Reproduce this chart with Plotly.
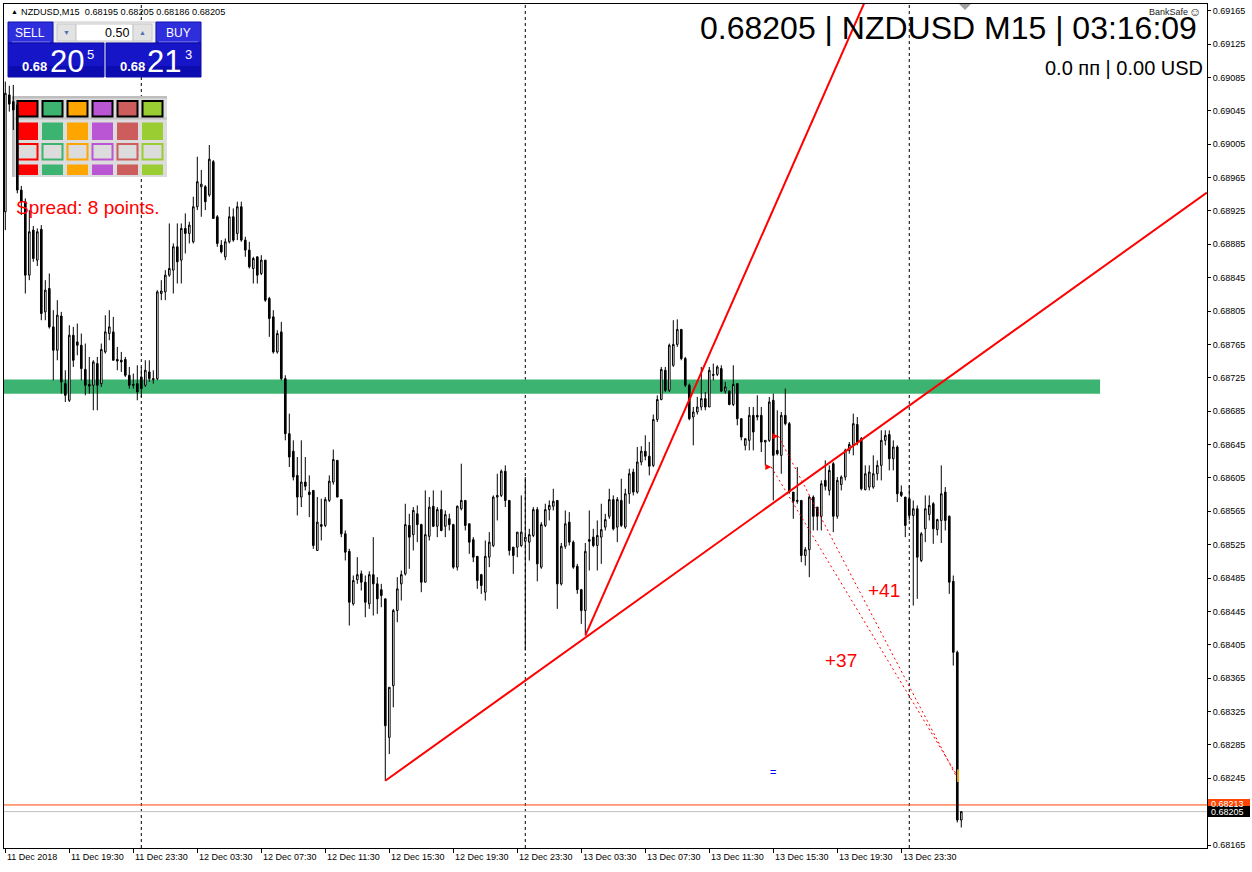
import plotly.graph_objects as go

# ---------------- data (NZDUSD M15, 11 Dec 2018 15:30 -> 14 Dec 2018 03:15) ----------------
bar_open = [0.68924,0.69064,0.69056,0.69052,0.68950,0.68936,0.68848,0.68902,0.68866,0.68903,
0.68804,0.68832,0.68786,0.68758,0.68799,0.68718,0.68698,0.68776,0.68768,0.68764,
0.68735,0.68717,0.68716,0.68742,0.68718,0.68756,0.68778,0.68780,0.68747,0.68746,
0.68747,0.68728,0.68717,0.68718,0.68726,0.68716,0.68732,0.68724,0.68724,0.68826,
0.68828,0.68848,0.68854,0.68882,0.68866,0.68904,0.68898,0.68888,0.68930,0.68954,
0.68954,0.68944,0.68984,0.68918,0.68884,0.68870,0.68888,0.68918,0.68898,0.68930,
0.68890,0.68878,0.68856,0.68870,0.68850,0.68866,0.68820,0.68798,0.68756,0.68780,
0.68724,0.68658,0.68637,0.68608,0.68582,0.68600,0.68588,0.68590,0.68518,0.68549,
0.68548,0.68578,0.68600,0.68626,0.68579,0.68538,0.68517,0.68454,0.68483,0.68490,
0.68480,0.68454,0.68489,0.68478,0.68471,0.68460,0.68294,0.68356,0.68446,0.68478,
0.68490,0.68548,0.68537,0.68562,0.68549,0.68480,0.68535,0.68571,0.68547,0.68567,
0.68547,0.68556,0.68549,0.68498,0.68568,0.68578,0.68550,0.68531,0.68511,0.68489,
0.68468,0.68510,0.68524,0.68582,0.68584,0.68613,0.68578,0.68522,0.68522,0.68524,
0.68529,0.68528,0.68536,0.68567,0.68498,0.68548,0.68567,0.68571,0.68578,0.68478,
0.68523,0.68552,0.68528,0.68499,0.68471,0.68446,0.68529,0.68534,0.68524,0.68534,
0.68546,0.68559,0.68579,0.68546,0.68578,0.68546,0.68586,0.68612,0.68588,0.68624,
0.68637,0.68631,0.68620,0.68675,0.68699,0.68734,0.68710,0.68740,0.68765,0.68783,
0.68748,0.68716,0.68678,0.68684,0.68690,0.68700,0.68690,0.68729,0.68729,0.68736,
0.68709,0.68709,0.68693,0.68718,0.68676,0.68644,0.68650,0.68680,0.68680,0.68680,
0.68648,0.68650,0.68698,0.68638,0.68632,0.68680,0.68670,0.68588,0.68578,0.68578,
0.68512,0.68519,0.68582,0.68570,0.68559,0.68602,0.68590,0.68622,0.68559,0.68597,
0.68606,0.68638,0.68645,0.68669,0.68652,0.68591,0.68594,0.68594,0.68610,0.68620,
0.68650,0.68657,0.68628,0.68642,0.68588,0.68582,0.68580,0.68560,0.68568,0.68506,
0.68544,0.68561,0.68574,0.68543,0.68554,0.68588,0.68559,0.68481,0.68396,0.68195]

bar_high = [0.69080,0.69075,0.69076,0.69058,0.68955,0.68940,0.68926,0.68907,0.68904,0.68908,
0.68842,0.68850,0.68806,0.68818,0.68804,0.68734,0.68788,0.68786,0.68790,0.68778,
0.68766,0.68750,0.68746,0.68750,0.68766,0.68800,0.68806,0.68798,0.68762,0.68756,
0.68750,0.68738,0.68730,0.68740,0.68738,0.68746,0.68746,0.68734,0.68830,0.68842,
0.68854,0.68910,0.68886,0.68910,0.68910,0.68922,0.68912,0.68942,0.68990,0.68974,
0.68956,0.69004,0.68986,0.68920,0.68890,0.68892,0.68930,0.68928,0.68936,0.68936,
0.68894,0.68888,0.68870,0.68870,0.68872,0.68866,0.68822,0.68806,0.68782,0.68792,
0.68728,0.68682,0.68650,0.68630,0.68650,0.68630,0.68608,0.68590,0.68582,0.68580,
0.68582,0.68608,0.68639,0.68626,0.68579,0.68542,0.68520,0.68488,0.68510,0.68494,
0.68488,0.68493,0.68534,0.68486,0.68478,0.68460,0.68354,0.68448,0.68486,0.68494,
0.68574,0.68562,0.68570,0.68572,0.68550,0.68590,0.68582,0.68590,0.68570,0.68590,
0.68566,0.68562,0.68550,0.68572,0.68622,0.68578,0.68550,0.68534,0.68511,0.68490,
0.68530,0.68540,0.68584,0.68610,0.68615,0.68620,0.68578,0.68522,0.68540,0.68584,
0.68606,0.68544,0.68570,0.68570,0.68552,0.68574,0.68578,0.68592,0.68578,0.68527,
0.68566,0.68564,0.68530,0.68502,0.68472,0.68527,0.68566,0.68544,0.68554,0.68574,
0.68562,0.68592,0.68584,0.68582,0.68604,0.68592,0.68616,0.68616,0.68642,0.68643,
0.68656,0.68648,0.68681,0.68704,0.68738,0.68738,0.68766,0.68794,0.68795,0.68783,
0.68750,0.68718,0.68690,0.68702,0.68738,0.68708,0.68738,0.68742,0.68740,0.68740,
0.68720,0.68710,0.68740,0.68718,0.68676,0.68652,0.68690,0.68690,0.68704,0.68690,
0.68650,0.68702,0.68706,0.68686,0.68684,0.68712,0.68672,0.68588,0.68618,0.68578,
0.68522,0.68584,0.68584,0.68570,0.68602,0.68626,0.68620,0.68624,0.68606,0.68608,
0.68640,0.68648,0.68682,0.68678,0.68654,0.68620,0.68620,0.68632,0.68626,0.68662,
0.68662,0.68662,0.68650,0.68644,0.68596,0.68582,0.68596,0.68578,0.68572,0.68540,
0.68584,0.68584,0.68576,0.68556,0.68620,0.68594,0.68560,0.68488,0.68398,0.68205]

bar_low = [0.68902,0.69044,0.69022,0.68946,0.68920,0.68826,0.68842,0.68864,0.68859,0.68794,
0.68794,0.68784,0.68722,0.68746,0.68706,0.68696,0.68696,0.68738,0.68752,0.68722,
0.68704,0.68706,0.68686,0.68686,0.68714,0.68754,0.68770,0.68746,0.68734,0.68732,
0.68726,0.68712,0.68712,0.68698,0.68702,0.68714,0.68720,0.68718,0.68722,0.68818,
0.68818,0.68846,0.68826,0.68838,0.68838,0.68874,0.68886,0.68886,0.68926,0.68918,
0.68926,0.68942,0.68916,0.68882,0.68874,0.68866,0.68886,0.68888,0.68890,0.68888,
0.68870,0.68856,0.68838,0.68838,0.68848,0.68816,0.68774,0.68754,0.68754,0.68722,
0.68650,0.68618,0.68602,0.68560,0.68570,0.68590,0.68558,0.68520,0.68518,0.68530,
0.68546,0.68576,0.68597,0.68582,0.68534,0.68506,0.68428,0.68452,0.68478,0.68470,
0.68438,0.68448,0.68440,0.68442,0.68450,0.68242,0.68274,0.68330,0.68432,0.68458,
0.68488,0.68496,0.68518,0.68528,0.68468,0.68480,0.68530,0.68546,0.68534,0.68541,
0.68534,0.68542,0.68496,0.68494,0.68566,0.68542,0.68514,0.68504,0.68472,0.68466,
0.68458,0.68498,0.68522,0.68554,0.68582,0.68570,0.68512,0.68490,0.68510,0.68522,
0.68398,0.68506,0.68534,0.68481,0.68496,0.68546,0.68554,0.68566,0.68448,0.68476,
0.68520,0.68524,0.68496,0.68466,0.68430,0.68418,0.68494,0.68522,0.68494,0.68502,
0.68542,0.68556,0.68542,0.68528,0.68546,0.68544,0.68574,0.68584,0.68586,0.68620,
0.68626,0.68608,0.68618,0.68672,0.68698,0.68708,0.68708,0.68738,0.68762,0.68746,
0.68714,0.68674,0.68644,0.68681,0.68686,0.68686,0.68690,0.68722,0.68727,0.68708,
0.68706,0.68692,0.68691,0.68668,0.68650,0.68638,0.68638,0.68638,0.68674,0.68636,
0.68620,0.68648,0.68578,0.68632,0.68610,0.68668,0.68586,0.68556,0.68574,0.68504,
0.68500,0.68486,0.68542,0.68542,0.68542,0.68590,0.68584,0.68540,0.68556,0.68590,
0.68602,0.68634,0.68632,0.68644,0.68590,0.68590,0.68590,0.68592,0.68602,0.68602,
0.68644,0.68614,0.68614,0.68576,0.68582,0.68534,0.68554,0.68452,0.68460,0.68504,
0.68528,0.68554,0.68526,0.68536,0.68527,0.68542,0.68466,0.68380,0.68192,0.68186]

bar_close = [0.69066,0.69053,0.69046,0.68950,0.68936,0.68848,0.68900,0.68868,0.68900,0.68802,
0.68830,0.68786,0.68758,0.68800,0.68720,0.68704,0.68776,0.68746,0.68764,0.68736,
0.68716,0.68715,0.68744,0.68716,0.68759,0.68780,0.68786,0.68746,0.68745,0.68744,
0.68728,0.68716,0.68716,0.68708,0.68712,0.68734,0.68724,0.68723,0.68828,0.68829,
0.68848,0.68856,0.68882,0.68864,0.68904,0.68898,0.68908,0.68930,0.68960,0.68957,
0.68936,0.68987,0.68916,0.68886,0.68876,0.68888,0.68918,0.68890,0.68930,0.68890,
0.68878,0.68858,0.68868,0.68848,0.68866,0.68818,0.68796,0.68756,0.68778,0.68724,
0.68658,0.68630,0.68606,0.68582,0.68600,0.68595,0.68585,0.68524,0.68552,0.68547,
0.68579,0.68601,0.68627,0.68582,0.68538,0.68516,0.68456,0.68482,0.68489,0.68480,
0.68456,0.68489,0.68478,0.68460,0.68464,0.68308,0.68354,0.68446,0.68472,0.68489,
0.68549,0.68534,0.68566,0.68549,0.68480,0.68537,0.68570,0.68547,0.68567,0.68542,
0.68561,0.68549,0.68498,0.68571,0.68578,0.68548,0.68528,0.68510,0.68482,0.68476,
0.68511,0.68528,0.68582,0.68584,0.68613,0.68578,0.68518,0.68512,0.68540,0.68540,
0.68534,0.68537,0.68567,0.68502,0.68549,0.68567,0.68572,0.68577,0.68478,0.68523,
0.68550,0.68528,0.68498,0.68471,0.68446,0.68517,0.68531,0.68524,0.68536,0.68543,
0.68555,0.68579,0.68544,0.68579,0.68548,0.68586,0.68610,0.68588,0.68624,0.68637,
0.68631,0.68619,0.68675,0.68699,0.68735,0.68710,0.68764,0.68765,0.68783,0.68748,
0.68716,0.68676,0.68684,0.68690,0.68700,0.68690,0.68734,0.68728,0.68738,0.68709,
0.68714,0.68693,0.68717,0.68676,0.68654,0.68652,0.68680,0.68660,0.68678,0.68648,
0.68650,0.68696,0.68632,0.68634,0.68680,0.68670,0.68588,0.68577,0.68577,0.68512,
0.68519,0.68582,0.68559,0.68559,0.68598,0.68595,0.68614,0.68559,0.68602,0.68606,
0.68638,0.68645,0.68670,0.68648,0.68592,0.68610,0.68612,0.68610,0.68620,0.68650,
0.68656,0.68628,0.68642,0.68586,0.68584,0.68548,0.68560,0.68568,0.68510,0.68538,
0.68568,0.68572,0.68544,0.68555,0.68586,0.68554,0.68480,0.68396,0.68195,0.68205]

bar_index = list(range(len(bar_open)))          # 15-minute bars from 11 Dec 15:30

x_tick_pos = [0, 16, 32, 48, 64, 80, 96, 112, 128, 144, 160, 176, 192, 208, 224]
x_tick_text = ["11 Dec 2018", "11 Dec 19:30", "11 Dec 23:30", "12 Dec 03:30", "12 Dec 07:30",
               "12 Dec 11:30", "12 Dec 15:30", "12 Dec 19:30", "12 Dec 23:30", "13 Dec 03:30",
               "13 Dec 07:30", "13 Dec 11:30", "13 Dec 15:30", "13 Dec 19:30", "13 Dec 23:30"]
y_tick_vals = [0.68165, 0.68205, 0.68245, 0.68285, 0.68325, 0.68365, 0.68405, 0.68445, 0.68485,
               0.68525, 0.68565, 0.68605, 0.68645, 0.68685, 0.68725, 0.68765, 0.68805, 0.68845,
               0.68885, 0.68925, 0.68965, 0.69005, 0.69045, 0.69085, 0.69125, 0.69165]
day_separators = [34, 130, 226]

zone_x = [-1, 273.7]
zone_price = [0.68706, 0.68723]

trend1_x = [95, 300.4]
trend1_y = [0.68242, 0.68947]
trend2_x = [145, 182, 230]
trend2_y = [0.68416, 0.68818, 0.69340]

trade1_x = [193.3, 238.0]
trade1_y = [0.68655, 0.68245]
trade2_x = [191.5, 238.0]
trade2_y = [0.68618, 0.68248]
trade_labels = ["+41", "+37"]
trade_label_x = [219.7, 208.9]
trade_label_y = [0.68470, 0.68386]

bid_price = 0.68205
ask_price = 0.68213

X_RANGE = [-0.325, 300.43]
Y_RANGE = [0.681614, 0.69173]

# ---------------- helpers for pixel placement of UI widgets ----------------
L, T, W, H = 4, 4, 1203, 844
def px(x): return (x - L) / W
def py(y): return 1 - (y - T) / H

FONT = "Liberation Sans"
shapes = []
ann = []

def rect(x0, y0, x1, y1, fill, lc=None, lw=0, layer="above"):
    shapes.append(dict(type="rect", xref="paper", yref="paper", x0=px(x0), x1=px(x1),
                       y0=py(y1), y1=py(y0), fillcolor=fill,
                       line=dict(color=lc or fill, width=lw), layer=layer))

def txt(x, y, s, size, color="black", xa="left", ya="middle", family=FONT):
    ann.append(dict(xref="paper", yref="paper", x=px(x), y=py(y), text=s, showarrow=False,
                    xanchor=xa, yanchor=ya, font=dict(size=size, color=color, family=family),
                    borderpad=0))

fig = go.Figure()

fig.add_trace(go.Candlestick(
    x=bar_index, open=bar_open, high=bar_high, low=bar_low, close=bar_close,
    increasing=dict(line=dict(color="black", width=1), fillcolor="white"),
    decreasing=dict(line=dict(color="black", width=1), fillcolor="black"),
    whiskerwidth=0, hoverinfo="skip", showlegend=False))

# trend lines
fig.add_trace(go.Scatter(x=trend1_x, y=trend1_y, mode="lines",
                         line=dict(color="#FF0000", width=2), hoverinfo="skip", showlegend=False))
fig.add_trace(go.Scatter(x=trend2_x, y=trend2_y, mode="lines",
                         line=dict(color="#FF0000", width=2), hoverinfo="skip", showlegend=False))
# trade history lines
for tx, ty in ((trade1_x, trade1_y), (trade2_x, trade2_y)):
    fig.add_trace(go.Scatter(x=tx, y=ty, mode="lines",
                             line=dict(color="#FF0000", width=1, dash="2px,3px"),
                             hoverinfo="skip", showlegend=False))
# trade markers
fig.add_trace(go.Scatter(x=[trade2_x[0], trade1_x[0]], y=[trade2_y[0], trade1_y[0]], mode="markers",
                         marker=dict(symbol="arrow-right", size=6, color="#FF0000"),
                         hoverinfo="skip", showlegend=False))
fig.add_trace(go.Scatter(x=[trade2_x[1] + 0.2], y=[trade2_y[1]], mode="markers",
                         marker=dict(symbol="line-ns", size=9, line=dict(color="#DAA520", width=2)),
                         hoverinfo="skip", showlegend=False))

# support zone
shapes.append(dict(type="rect", xref="x", yref="y", x0=zone_x[0], x1=zone_x[1],
                   y0=zone_price[0], y1=zone_price[1], fillcolor="#3CB371",
                   line=dict(width=0), layer="below"))
# day separators
for d in day_separators:
    shapes.append(dict(type="line", xref="x", yref="paper", x0=d, x1=d, y0=0, y1=1,
                       line=dict(color="black", width=1, dash="3px,3px"), layer="below"))
# bid / ask lines
shapes.append(dict(type="line", xref="paper", yref="y", x0=0, x1=1, y0=ask_price, y1=ask_price,
                   line=dict(color="#FF4500", width=1), layer="below"))
shapes.append(dict(type="line", xref="paper", yref="y", x0=0, x1=1, y0=bid_price, y1=bid_price,
                   line=dict(color="#C0C0C0", width=1), layer="below"))

# colour palette widget (behind candles)
pal = ["#FF0000", "#3CB371", "#FFA500", "#BA55D3", "#CD5C5C", "#9ACD32"]
rect(12, 96, 167, 177, "#DCDCDC", layer="below")
rect(12, 96, 167, 98.5, "#BEBEBE", layer="below")
rect(12, 96, 14.5, 177, "#BEBEBE", layer="below")
rect(14.5, 117.5, 167, 119.5, "#C4C4C4", layer="below")
for k, c in enumerate(pal):
    x0 = 17.5 + 25 * k
    rect(x0, 101, x0 + 20, 116.5, c, "black", 2, layer="below")
    rect(x0 - 0.5, 122.5, x0 + 20.5, 140, c, layer="below")
    rect(x0, 144, x0 + 20, 159.5, "#DCDCDC", c, 2, layer="below")
    rect(x0 - 0.5, 164.5, x0 + 20.5, 175, c, layer="below")

# one-click trading panel
rect(53, 22, 156, 43, "#F0F0F0", "#C8C8C8", 1)
rect(57, 24, 76, 41, "#E3E3E3", "#C8C8C8", 1)
rect(76, 24, 133, 41, "white", "#C8C8C8", 1)
rect(133, 24, 152, 41, "#E3E3E3", "#C8C8C8", 1)
rect(8, 22, 53, 43, "#2E2EDC", "#1010B0", 1)
rect(156, 22, 201, 43, "#2E2EDC", "#1010B0", 1)
rect(12, 41.5, 50, 42.5, "#8C8CF0")
rect(159, 41.5, 198, 42.5, "#8C8CF0")
rect(8, 43, 104, 77, "#1616C8", "#0A0AA0", 1)
rect(106, 43, 201, 77, "#1616C8", "#0A0AA0", 1)
rect(8.5, 66, 103.5, 76.5, "#0C0CB0")
rect(106.5, 66, 200.5, 76.5, "#0C0CB0")
txt(30, 32.5, "SELL", 12, "white", "center")
txt(178, 32.5, "BUY", 12, "white", "center")
txt(66.5, 32.5, "▼", 7, "#5070B0", "center")
txt(142.5, 32.5, "▲", 7, "#5070B0", "center")
txt(130, 32.5, "0.50", 12.5, "black", "right")
txt(21, 67, "<b>0.68</b>", 13, "white")
txt(49, 61, "20", 31, "white")
txt(86, 54, "5", 13, "white")
txt(119, 67, "<b>0.68</b>", 13, "white")
txt(146, 61, "21", 31, "white")
txt(184, 54, "3", 13, "white")

# header / info texts
txt(10, 12, "▲", 7, "black")
txt(20, 12, "NZDUSD,M15\u00a0\u00a00.68195 0.68205 0.68186 0.68205", 9.2, "black")
txt(15, 207, "Spread: 8 points.", 19, "#FF0000")
txt(1198, 28, "0.68205 | NZDUSD M15 | 03:16:09", 32, "black", "right")
txt(1204, 68, "0.0 пп | 0.00 USD", 20, "black", "right")
txt(1189, 12, "BankSafe", 9, "#222222", "right")
txt(1202, 12, "☺", 12, "#222222", "right")
# chart-shift marker
shapes.append(dict(type="path", xref="paper", yref="paper",
                   path=f"M {px(959)} {py(4)} L {px(971)} {py(4)} L {px(965)} {py(10)} Z",
                   fillcolor="#A0A0A0", line=dict(width=0), layer="above"))

# trade labels
for s, lx, ly in zip(trade_labels, trade_label_x, trade_label_y):
    ann.append(dict(xref="x", yref="y", x=lx, y=ly, text=s, showarrow=False,
                    font=dict(size=19, color="#FF0000", family=FONT)))
ann.append(dict(xref="x", yref="y", x=191.9, y=0.68253, text="=", showarrow=False,
                font=dict(size=11, color="#0000FF", family=FONT)))

# x-axis labels (left aligned to tick, MT4 style)
for p, s in zip(x_tick_pos, x_tick_text):
    ann.append(dict(xref="x", yref="paper", x=p, y=0, text=s, showarrow=False,
                    xanchor="left", yanchor="top", xshift=0, yshift=-2,
                    font=dict(size=9, color="black", family=FONT)))

# bid / ask price boxes on the price scale
rect(1208, 799, 1250, 808, "#FF4500")
txt(1210, 803.5, "0.68213", 9, "white")
rect(1208, 806, 1250, 817, "black")
txt(1210, 811.5, "0.68205", 9, "white")

fig.update_layout(
    width=1252, height=872,
    margin=dict(l=L, r=1252 - L - W, t=T, b=872 - T - H),
    paper_bgcolor="white", plot_bgcolor="white",
    boxgap=0.42,
    showlegend=False,
    shapes=shapes, annotations=ann,
    xaxis=dict(range=X_RANGE, showgrid=False, zeroline=False, rangeslider=dict(visible=False),
               tickvals=x_tick_pos, showticklabels=False, ticks="outside", ticklen=4,
               tickcolor="black", showline=True, linecolor="black", linewidth=1, mirror=True,
               fixedrange=True),
    yaxis=dict(range=Y_RANGE, side="right", showgrid=False, zeroline=False,
               tickvals=y_tick_vals, ticktext=[f"{v:.5f}" for v in y_tick_vals],
               ticks="outside", ticklen=3, tickcolor="black",
               tickfont=dict(size=9, color="black", family=FONT),
               showline=True, linecolor="black", linewidth=1, mirror=True,
               automargin=False, fixedrange=True),
)

fig.write_html("out.html")
